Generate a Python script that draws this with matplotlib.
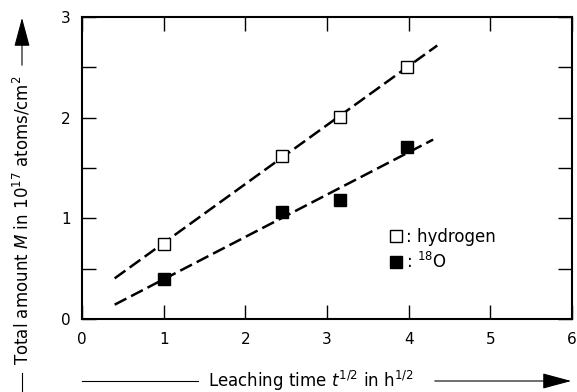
import numpy as np
import matplotlib
matplotlib.use("Agg")
import matplotlib.pyplot as plt
from matplotlib.patches import FancyArrowPatch

plt.rcParams['font.family'] = ['DejaVu Sans']
plt.rcParams['lines.scale_dashes'] = False

# leaching time t^1/2 (h^1/2) and total amounts (10^17 atoms/cm^2)
t_sqrt = [1.0, 2.45, 3.16, 3.98]
hydrogen = [0.75, 1.62, 2.01, 2.50]
oxygen18 = [0.40, 1.06, 1.18, 1.71]

# range over which the fitted lines are drawn
fit_range_h = [0.4, 4.35]
fit_range_o = [0.4, 4.3]

W, H = 577, 392
fig = plt.figure(figsize=(W / 100, H / 100), dpi=100)
ax = fig.add_axes([82 / W, (H - 319) / H, (572 - 82) / W, (319 - 17) / H])

for y, rng in [(hydrogen, fit_range_h), (oxygen18, fit_range_o)]:
    k, d = np.polyfit(t_sqrt, y, 1)
    xs = np.array(rng)
    ax.plot(xs, k * xs + d, color='black', lw=1.8, dashes=(9.5, 3.8), zorder=2)

ax.plot(t_sqrt, hydrogen, 's', ms=8.5, mfc='white', mec='black', mew=1.0,
        ls='none', label=': hydrogen', zorder=3)
ax.plot(t_sqrt, oxygen18, 's', ms=8.5, mfc='black', mec='black', mew=1.0,
        ls='none', label=': $^{18}$O', zorder=3)

ax.set_xlim(0, 6)
ax.set_ylim(0, 3)
ax.set_xticks([0, 1, 2, 3, 4, 5, 6])
ax.set_yticks([0, 1, 2, 3])
ax.set_yticks([0.5, 1.5, 2.5], minor=True)
ax.tick_params(which='both', direction='in', length=10, width=1,
               top=True, right=True, labelsize=11)
ax.tick_params(axis='y', pad=8)
ax.tick_params(axis='x', pad=9)
for s in ax.spines.values():
    s.set_linewidth(1.5)

ax.legend(loc='lower left', bbox_to_anchor=(0.617, 0.135), frameon=False,
          handlelength=0.6, handletextpad=0.3, labelspacing=0.35,
          fontsize=12, borderaxespad=0)

# x axis label with arrow line
fig.text(311 / W, 11 / H, r'Leaching time $t^{1/2}$ in h$^{1/2}$',
         ha='center', va='center', fontsize=12)
fig.add_artist(plt.Line2D([82 / W, 198 / W], [11 / H, 11 / H],
                          color='black', lw=0.8, transform=fig.transFigure))
fig.add_artist(FancyArrowPatch((432, 11), (574, 11), transform=None,
                               arrowstyle='-|>,head_length=1.3,head_width=0.35',
                               mutation_scale=14, color='black', lw=0.8))

# y axis label with arrow line
fig.text(22 / W, (H - 220) / H, r'Total amount $M$ in 10$^{17}$ atoms/cm$^2$',
         ha='center', va='center', rotation=90, fontsize=12)
fig.add_artist(plt.Line2D([22 / W, 22 / W], [0, (H - 373) / H],
                          color='black', lw=0.8, transform=fig.transFigure))
fig.add_artist(FancyArrowPatch((22, H - 68), (22, H - 15), transform=None,
                               arrowstyle='-|>,head_length=1.3,head_width=0.35',
                               mutation_scale=14, color='black', lw=0.8))

fig.savefig('out.png', dpi=100)
